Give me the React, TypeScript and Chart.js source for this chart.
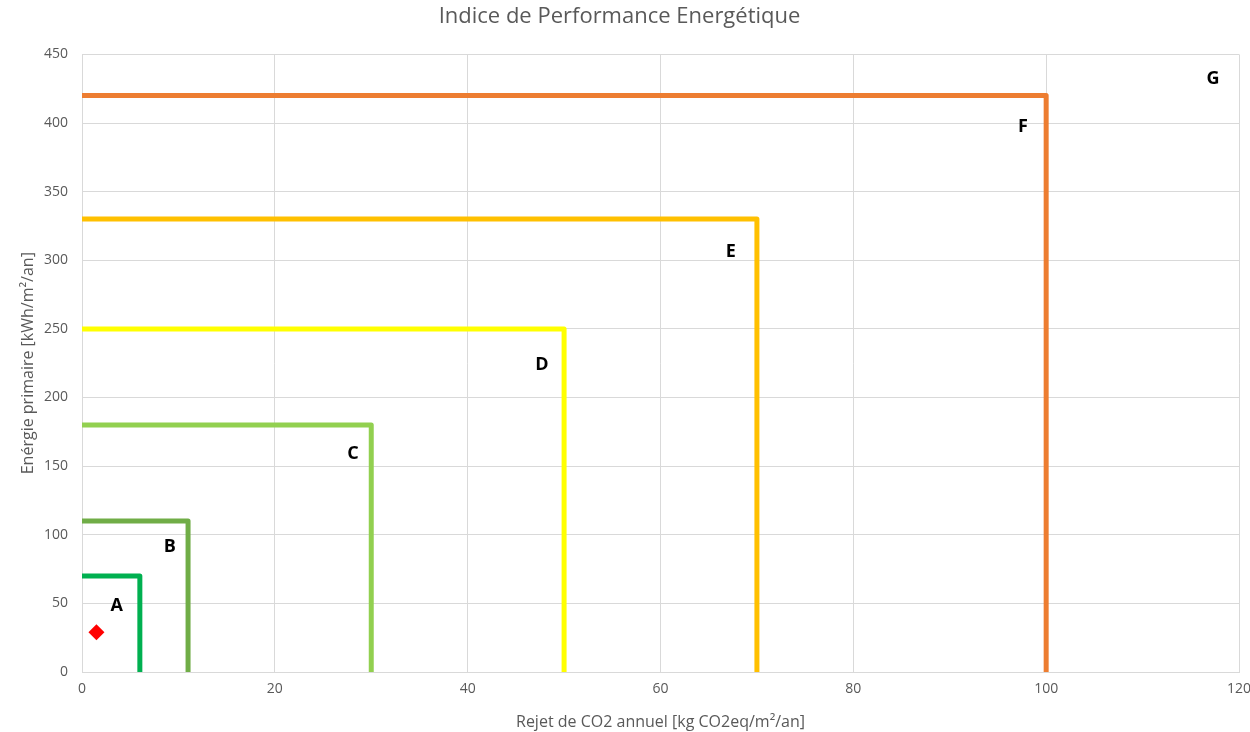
import React, { useEffect, useRef } from "react";
import { Chart, registerables } from "chart.js";

Chart.register(...registerables);

const classLabels = ["A", "B", "C", "D", "E", "F", "G"];
const classCO2 = [6, 11, 30, 50, 70, 100];
const classEnergy = [70, 110, 180, 250, 330, 420];
const classColors = ["#00b050", "#70ad47", "#92d050", "#ffff00", "#ffc000", "#ed7d31"];
const labelX = [3.6, 9.1, 28.1, 47.7, 67.3, 97.6, 117.3];
const labelY = [48.5, 91, 159, 223.5, 306, 397.5, 432.5];
const pointCO2 = [1.5];
const pointEnergy = [29];

const FONT = "'Open Sans', 'Liberation Sans', sans-serif";

const labelPlugin = {
  id: "classLabels",
  afterDatasetsDraw(chart: any) {
    const ctx = chart.ctx;
    const xs = chart.scales.x;
    const ys = chart.scales.y;
    ctx.save();
    ctx.fillStyle = "#000000";
    ctx.font = `bold 18px ${FONT}`;
    ctx.textAlign = "center";
    ctx.textBaseline = "middle";
    classLabels.forEach((l, i) => {
      ctx.fillText(l, xs.getPixelForValue(labelX[i]), ys.getPixelForValue(labelY[i]));
    });
    ctx.restore();
  },
};

export default function App() {
  const ref = useRef<HTMLCanvasElement>(null);
  useEffect(() => {
    document.body.style.margin = "0";
    const datasets: any[] = classCO2.map((x, i) => ({
      label: classLabels[i],
      data: [
        { x: 0, y: classEnergy[i] },
        { x, y: classEnergy[i] },
        { x, y: 0 },
      ],
      showLine: true,
      borderColor: classColors[i],
      backgroundColor: classColors[i],
      borderWidth: 5,
      borderJoinStyle: "round",
      pointRadius: 0,
      pointHoverRadius: 0,
      fill: false,
    }));
    datasets.push({
      label: "Bâtiment",
      data: pointCO2.map((x, i) => ({ x, y: pointEnergy[i] })),
      showLine: false,
      pointStyle: "rectRot",
      pointRadius: 8,
      backgroundColor: "#ff0000",
      borderColor: "#ff0000",
      borderWidth: 0,
    });
    const chart = new Chart(ref.current!, {
      type: "scatter",
      data: { datasets },
      plugins: [labelPlugin],
      options: {
        animation: false,
        responsive: false,
        maintainAspectRatio: false,
        layout: { padding: { top: 4, right: 11, left: 0, bottom: 0 } },
        plugins: {
          legend: { display: false },
          tooltip: { enabled: false },
          title: {
            display: true,
            text: "Indice de Performance Energétique",
            color: "#595959",
            font: { family: FONT, size: 22, weight: "normal" },
            padding: { top: 0, bottom: 24 },
          },
        },
        scales: {
          x: {
            type: "linear",
            min: 0,
            max: 120,
            ticks: {
              stepSize: 20,
              color: "#595959",
              font: { family: FONT, size: 14 },
              padding: 9,
            },
            grid: { color: "#d9d9d9", drawTicks: false },
            border: { color: "#d9d9d9" },
            title: {
              display: true,
              text: "Rejet de CO2 annuel [kg CO2eq/m²/an]",
              color: "#595959",
              font: { family: FONT, size: 16 },
              padding: { top: 6, bottom: 0 },
            },
            afterFit: (s: any) => {
              s.height = 60;
              s.paddingLeft = 0;
              s.paddingRight = 0;
            },
          },
          y: {
            type: "linear",
            min: 0,
            max: 450,
            ticks: {
              stepSize: 50,
              color: "#595959",
              font: { family: FONT, size: 14 },
              padding: 14,
            },
            grid: { color: "#d9d9d9", drawTicks: false },
            border: { color: "#d9d9d9" },
            title: {
              display: true,
              text: "Enérgie primaire [kWh/m²/an]",
              color: "#595959",
              font: { family: FONT, size: 16 },
              padding: { top: 19, bottom: 8 },
            },
            afterFit: (s: any) => {
              s.width = 82;
            },
          },
        },
      },
    });
    return () => chart.destroy();
  }, []);
  return (
    <div style={{ width: 1250, height: 732 }}>
      <canvas ref={ref} width={1250} height={732} style={{ display: "block" }} />
    </div>
  );
}
